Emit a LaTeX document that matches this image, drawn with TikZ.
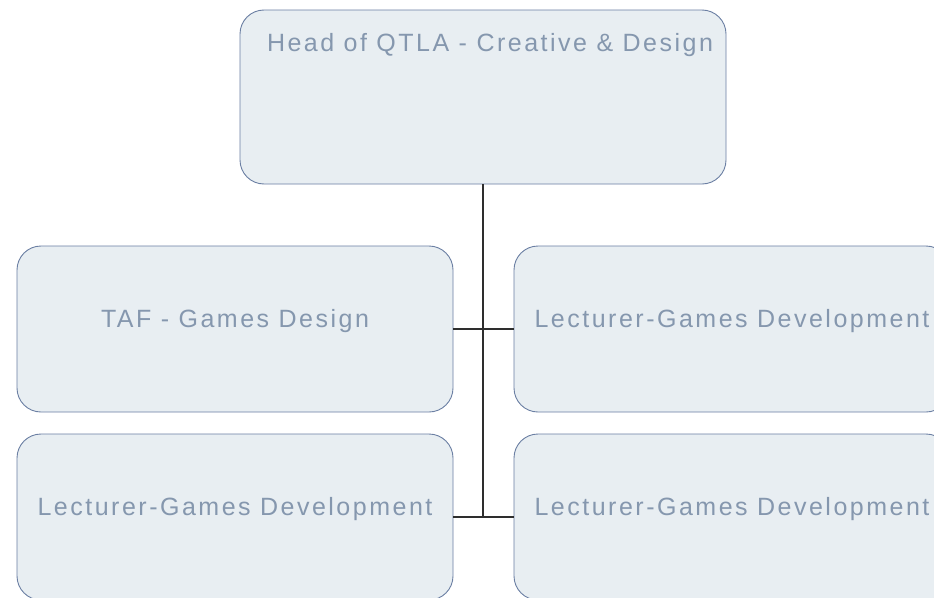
\documentclass[tikz,border=0pt]{standalone}
\usepackage{fontspec}
\usepackage{xcolor}
\usepackage{tikz}
\newfontfamily\boxfont{Liberation Sans}[LetterSpace=10]
\definecolor{boxfill}{HTML}{E8EEF2}
\definecolor{boxline}{HTML}{6B7FA3}
\definecolor{boxtext}{HTML}{8597AE}
\definecolor{linkline}{HTML}{2E2E2E}

\begin{document}
\begin{tikzpicture}[x=1pt, y=-1pt,
    box/.style={draw=boxline, fill=boxfill, rounded corners=24pt, line width=0.9pt, align=center, inner sep=0pt, minimum width=436pt, minimum height=166pt, text=boxtext, font=\boxfont\fontsize{25}{29}\selectfont, text height=18pt, text depth=22pt},
    headbox/.style={box, minimum width=486pt, minimum height=174pt, text depth=110pt},
    link/.style={draw=linkline, line width=1.1pt}
]
\useasboundingbox[fill=white] (0,0) rectangle (934,597);
\clip (0,0) rectangle (934,597);

\node[headbox] at (483,97) (head) {\hspace*{14pt}Head of QTLA - Creative \& Design};

\node[box] at (235,329) (taf) {TAF - Games Design};
\node[box] at (732,329) (lecright) {Lecturer-Games Development};
\node[box] at (235,517) (lecleft) {Lecturer-Games Development};
\node[box] at (732,517) (lecbottom) {Lecturer-Games Development};

\draw[link] (head.south) -- (head.south |- lecleft.east);
\draw[link] (taf) -- (lecright);
\draw[link] (lecleft) -- (lecbottom);
\end{tikzpicture}
\end{document}
